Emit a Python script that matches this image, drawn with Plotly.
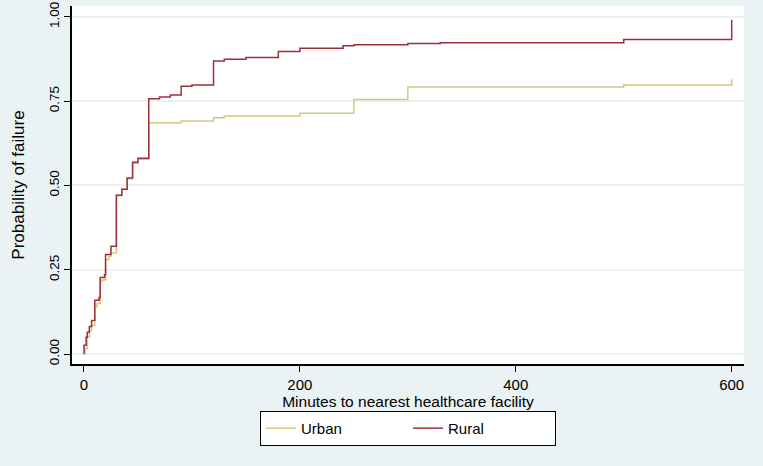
import plotly.graph_objects as go

# Kaplan-Meier style failure curves (time in minutes, cumulative failure probability)
urban_t = [0, 0, 1, 3, 5, 7, 10, 12, 15, 17, 20, 23, 25, 30, 35, 40, 45, 50, 60, 90, 120, 130, 200, 250, 300, 500, 600, 600]
urban_p = [0, 0.0, 0.017, 0.05, 0.07, 0.085, 0.14, 0.15, 0.215, 0.22, 0.28, 0.29, 0.30, 0.47, 0.489, 0.52, 0.565, 0.578,
           0.686, 0.691, 0.701, 0.706, 0.714, 0.755, 0.792, 0.798, 0.798, 0.815]

rural_t = [0, 0, 2, 3, 5, 7, 10, 14, 15, 19, 20, 25, 30, 35, 40, 45, 50, 60, 70, 80, 90, 100, 120, 130, 150, 180, 200,
           240, 250, 300, 330, 500, 600, 600]
rural_p = [0, 0.026, 0.05, 0.065, 0.082, 0.10, 0.16, 0.168, 0.227, 0.235, 0.295, 0.32, 0.471, 0.489, 0.522, 0.569, 0.581,
           0.757, 0.762, 0.768, 0.794, 0.798, 0.869, 0.874, 0.879, 0.897, 0.907, 0.914, 0.917, 0.921, 0.923, 0.933,
           0.933, 0.991]

x_ticks = [0, 200, 400, 600]
y_ticks = [0, 0.25, 0.5, 0.75, 1.0]
x_title = "Minutes to nearest healthcare facility"
y_title = "Probability of failure"

URBAN_COLOR = "#D6C67C"
RURAL_COLOR = "#9E2F3A"
BG = "#EAF2F3"
FONT = "Liberation Sans, Arial, sans-serif"

fig = go.Figure()
fig.add_trace(go.Scatter(x=urban_t, y=urban_p, mode="lines", line_shape="hv", name="Urban",
                         line=dict(color=URBAN_COLOR, width=1.5)))
fig.add_trace(go.Scatter(x=rural_t, y=rural_p, mode="lines", line_shape="hv", name="Rural",
                         line=dict(color=RURAL_COLOR, width=1.5)))

fig.update_layout(
    width=763, height=466,
    margin=dict(l=72, r=19, t=2, b=102),
    paper_bgcolor=BG, plot_bgcolor="white",
    font=dict(family=FONT, color="black", size=15),
    showlegend=True,
    legend=dict(orientation="h", x=0.5, xanchor="center", y=-0.131, yanchor="top",
                bgcolor="white", bordercolor="black", borderwidth=1,
                font=dict(size=15), entrywidth=102, entrywidthmode="pixels"),
    xaxis=dict(range=[-11.1, 611.4], tickvals=x_ticks, showgrid=False, zeroline=False,
               showline=True, linecolor="black", linewidth=1.5, ticks="outside", ticklen=6,
               tickcolor="black", tickfont=dict(size=15),
               title=dict(text=x_title, font=dict(size=15.5), standoff=2)),
    yaxis=dict(range=[-0.0293, 1.032], tickvals=y_ticks, tickformat=".2f", tickangle=-90,
               ticklabeloverflow="allow",
               showgrid=True, gridcolor=BG, gridwidth=1.5, zeroline=False,
               showline=True, linecolor="black", linewidth=1.5, ticks="outside", ticklen=6,
               tickcolor="black", tickfont=dict(size=13.5),
               title=dict(text=y_title, font=dict(size=17), standoff=18)),
)

fig.write_html("out.html")
